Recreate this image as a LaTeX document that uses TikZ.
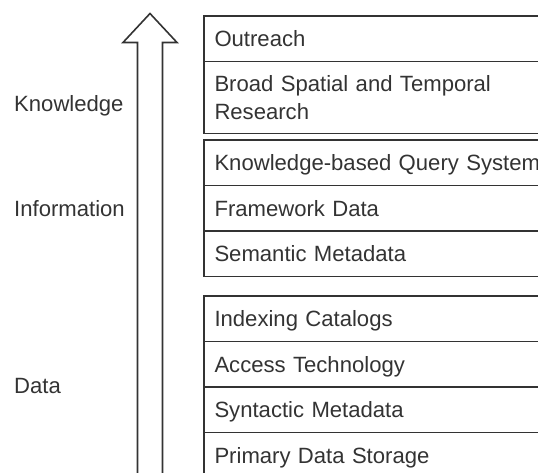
\documentclass[tikz,border=0pt]{standalone}
\usepackage{fontspec}
\setmainfont{Liberation Sans}
\usetikzlibrary{positioning}
\definecolor{ink}{gray}{0.2}
\tikzset{
  layerbox/.style={draw=ink, text=ink, line width=1.6pt, outer sep=0pt,
    minimum height=45.5pt, text width=330pt, align=left,
    inner xsep=10.5pt, inner ysep=0pt,
    font=\fontsize{22.1}{27.5}\selectfont},
  layer/.style={layerbox, text height=15.8pt, text depth=0pt},
  lbl/.style={anchor=base west, inner sep=0pt, text=ink,
    font=\fontsize{22.1}{27.5}\selectfont}
}
\begin{document}
\begin{tikzpicture}[x=1pt,y=-1pt]
        \useasboundingbox (0,0) rectangle (538,472);
        \clip (0,0) rectangle (538,472);
        % Freccia
        \draw[ink, line width=1.6pt, line join=miter]
            (137.5,480) -- (137.5,42.5) -- (123,42.5) -- (150,13.5)
            -- (177,42.5) -- (162.5,42.5) -- (162.5,480);
        % Knowledge
        \node[layer, anchor=north west] (outreach) at (204,16) {Outreach};
        \node[layerbox, minimum height=72pt, below=0pt of outreach] (broad)
            {Broad Spatial and Temporal\\Research};
        % Information
        \node[layer, anchor=north west] (kbqs) at (204,140) {Knowledge-based Query System};
        \node[layer, below=0pt of kbqs] (framework) {Framework Data};
        \node[layer, below=0pt of framework] (semantic) {Semantic Metadata};
        % Data
        \node[layer, anchor=north west] (indexing) at (204,296) {Indexing Catalogs};
        \node[layer, below=0pt of indexing] (access) {Access Technology};
        \node[layer, below=0pt of access] (syntactic) {Syntactic Metadata};
        \node[layer, below=0pt of syntactic] (primary) {Primary Data Storage};
        % Etichette
        \node[lbl] (knowledge) at (14,111.5) {Knowledge};
        \node[lbl] (information) at (14,216.5) {Information};
        \node[lbl] (data) at (14,393) {Data};
    \end{tikzpicture}
\end{document}
